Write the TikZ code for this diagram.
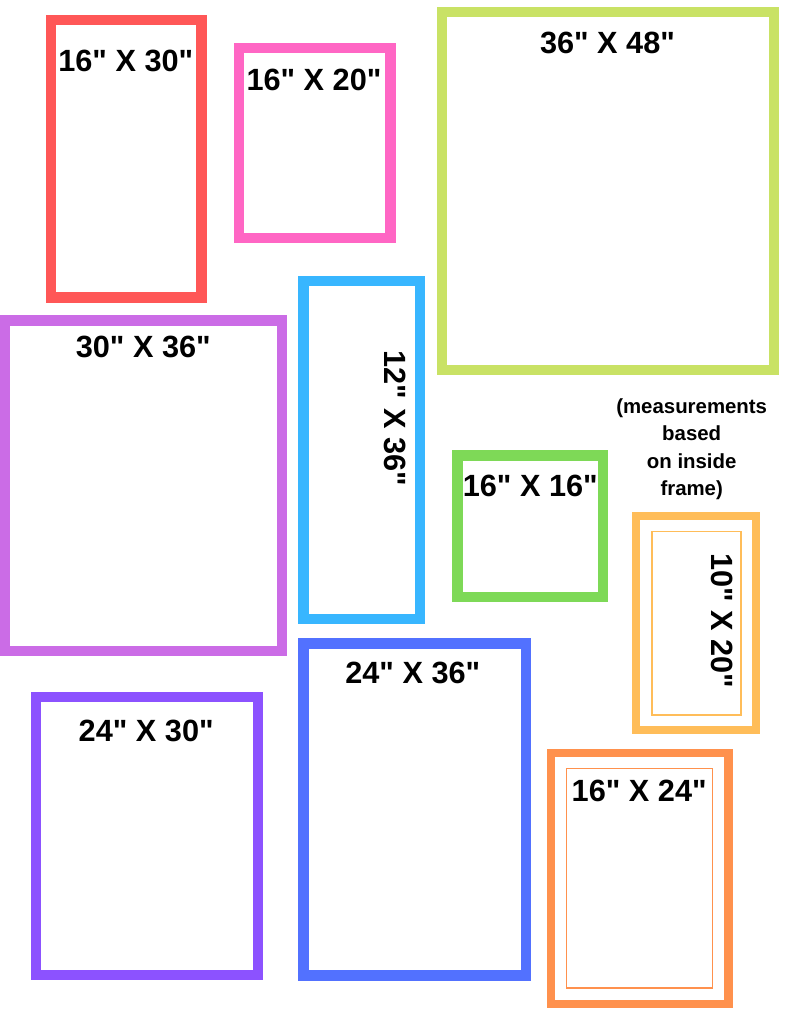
\documentclass[tikz,border=0pt]{standalone}
\usepackage{fontspec}
\newfontfamily\framefont{Liberation Sans}

\definecolor{fr-coral}{HTML}{FF5757}
\definecolor{fr-pink}{HTML}{FF66C4}
\definecolor{fr-lime}{HTML}{C9E265}
\definecolor{fr-sky}{HTML}{38B6FF}
\definecolor{fr-orchid}{HTML}{CB6CE6}
\definecolor{fr-grass}{HTML}{7ED957}
\definecolor{fr-mango}{HTML}{FFBD59}
\definecolor{fr-tangerine}{HTML}{FF914D}
\definecolor{fr-royal}{HTML}{5271FF}
\definecolor{fr-violet}{HTML}{8C52FF}

\tikzset{
  wide frame/.style = {draw = #1, line width = 10.5pt},
  slim frame/.style = {draw = #1, line width = 8.2pt},
  mat line/.style = {draw = #1, line width = 1.2pt},
  size label/.style = {font = \framefont\bfseries\fontsize{30.7}{30.7}\selectfont, inner sep = 0pt},
  note/.style = {font = \framefont\bfseries\fontsize{20.4}{27.5}\selectfont, align = center, inner sep = 0pt}
}

\begin{document}
\begin{tikzpicture}[x = 1pt, y = -1pt]

    \useasboundingbox (0, 0) rectangle (791, 1024);

      %frames, first row
      \draw[wide frame = fr-coral] (51, 20) rectangle (201.5, 297.5);
      \draw[wide frame = fr-pink] (239, 48) rectangle (390.5, 238);
      \draw[wide frame = fr-lime] (442, 12) rectangle (773.8, 369.8);

      %frames, middle
      \draw[wide frame = fr-orchid] (4.8, 320.3) rectangle (282, 650.8);
      \draw[wide frame = fr-sky] (303.5, 281) rectangle (419.8, 618.8);
      \draw[wide frame = fr-grass] (457.5, 455.3) rectangle (603, 597);

      %frames, bottom row
      \draw[wide frame = fr-violet] (36, 697) rectangle (258, 975);
      \draw[wide frame = fr-royal] (303.5, 643.5) rectangle (526, 975.5);

      %frames with a mat
      \draw[slim frame = fr-mango] (636.3, 516.3) rectangle (756, 730.3);
      \draw[mat line = fr-mango] (652, 531.7) rectangle (741, 715);
      \draw[slim frame = fr-tangerine] (551, 753) rectangle (728.5, 1004);
      \draw[mat line = fr-tangerine] (566.5, 768.8) rectangle (712.5, 988);

      %sizes
      \node (s1630) at (125.8, 61) [size label] {16" X 30"};
      \node (s1620) at (314, 79.5) [size label] {16" X 20"};
      \node (s3648) at (607.5, 42.5) [size label] {36" X 48"};
      \node (s3036) at (143.3, 346.7) [size label] {30" X 36"};
      \node (s1236) at (395.3, 418.3) [size label, rotate = -90] {12" X 36"};
      \node (s1616) at (530.3, 486.3) [size label] {16" X 16"};
      \node (s1020) at (721.7, 620.8) [size label, rotate = -90] {10" X 20"};
      \node (s2430) at (146.2, 731.2) [size label] {24" X 30"};
      \node (s2436) at (412.8, 673.2) [size label] {24" X 36"};
      \node (s1624) at (639.2, 791.3) [size label] {16" X 24"};

      \node (remark) at (691.7, 449) [note] {(measurements\\based\\on inside\\frame)};

    \end{tikzpicture}
\end{document}
